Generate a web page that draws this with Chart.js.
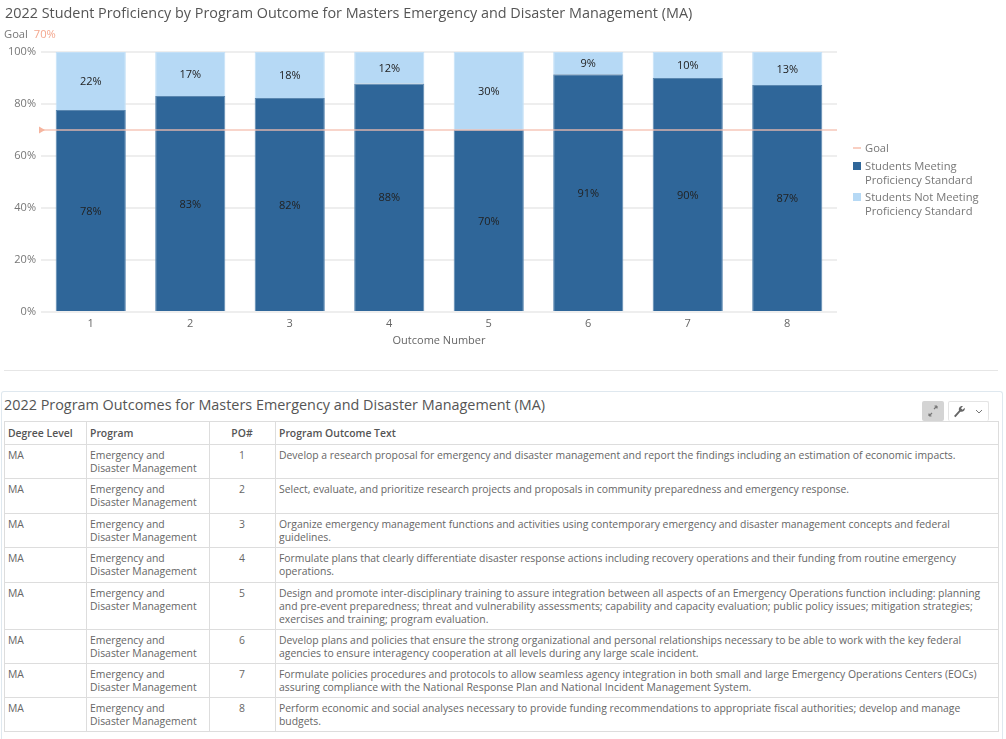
<!DOCTYPE html>
<html>
<head>
<meta charset="utf-8">
<title>2022 Student Proficiency</title>
<script src="https://cdn.jsdelivr.net/npm/chart.js@4"></script>
<style>
  html, body { margin: 0; padding: 0; background: #fff; overflow: hidden; }
  body { width: 1006px; height: 739px; position: relative; font-family: "Open Sans", sans-serif; color: #666; }
  #grafico { position: absolute; left: 0; top: 0; }
  #titulo { position: absolute; left: 5px; top: 3px; font-size: 14.4px; line-height: 20px; color: #555; white-space: nowrap; }
  #meta { position: absolute; left: 4px; top: 26px; font-size: 11.2px; line-height: 15px; color: #777; }
  #meta span { color: #f4a78e; margin-left: 3px; }
  #legenda { position: absolute; left: 853px; top: 141px; width: 130px; font-size: 11.2px; line-height: 14px; color: #777; }
  .item { position: relative; padding-left: 12px; margin-bottom: 3px; }
  .item:first-child { margin-bottom: 4px; }
  .item i { position: absolute; left: 0; top: 3px; width: 8px; height: 8px; }
  .item i.linha { top: 6px; height: 2px; background: #f9cfc2 !important; }
  #divisor { position: absolute; left: 4px; top: 370px; width: 994px; border-top: 1px solid #e6e6e6; }
  #painel { position: absolute; left: 1px; top: 391px; width: 1000px; height: 348px; border: 1px solid #dfe8ef; border-bottom: 0; border-radius: 3px 3px 0 0; }
  #titulo2 { position: absolute; left: 4px; top: 395px; font-size: 14.4px; line-height: 20px; color: #555; white-space: nowrap; }
  #btn-expandir { position: absolute; left: 922px; top: 401px; width: 22px; height: 20px; background: #d4d4d4; border-radius: 2px; }
  #btn-ferramenta { position: absolute; left: 948px; top: 401px; width: 41px; height: 20px; border: 1px solid #e4e4e4; border-bottom: 0; box-sizing: border-box; border-radius: 2px; }
  table { position: absolute; left: 4px; top: 421px; width: 994px; border-collapse: collapse; table-layout: fixed; font-size: 10.4px; line-height: 13px; }
  th, td { border: 1px solid #ddd; padding: 4px 4px 3px 3px; text-align: left; vertical-align: top; font-weight: normal; }
  th { font-weight: 600; color: #555; padding-top: 5px; }
  .centro { text-align: center; }
</style>
</head>
<body>
<canvas id="grafico" width="1006" height="360"></canvas>
<div id="titulo">2022 Student Proficiency by Program Outcome for Masters Emergency and Disaster Management (MA)</div>
<div id="meta"></div>
<div id="legenda"></div>
<div id="divisor"></div>
<div id="painel"></div>
<div id="titulo2">2022 Program Outcomes for Masters Emergency and Disaster Management (MA)</div>
<div id="btn-expandir">
  <svg width="22" height="20" viewBox="0 0 22 20" fill="none" stroke="#777" stroke-width="1.2"><path d="M12 8 L15 5 M15 5 L12.5 5 M15 5 L15 7.5"/><path d="M10 12 L7 15 M7 15 L7 12.5 M7 15 L9.5 15"/></svg>
</div>
<div id="btn-ferramenta">
  <svg width="39" height="18" viewBox="0 0 39 18"><path d="M5 14 L10 8.5 C9.3 6 11 3.5 14 4 L12 6.3 L13.5 7.8 L15.8 5.7 C16.3 8.7 13.7 10.4 11.3 9.7 L6.5 15.3 Z" fill="#666"/><path d="M27 8 L30 11 L33 8" fill="none" stroke="#777" stroke-width="1"/></svg>
</div>
<table id="tabela"></table>

<script>
const META = 70;
const resultados = ['1', '2', '3', '4', '5', '6', '7', '8'];
const atendem = [77.7, 83.1, 82.3, 87.9, 70, 91.4, 90, 87.3];
const naoAtendem = [22.3, 16.9, 17.7, 12.1, 30, 8.6, 10, 12.7];
const ticksY = [0, 20, 40, 60, 80, 100];

const colunas = ['Degree Level', 'Program', 'PO#', 'Program Outcome Text'];
const largurasColunas = [82, 123, 66, 723];
const alturasLinhas = [23, 34, 35, 34, 35, 47, 34, 34, 33];
const textos = [
  'Develop a research proposal for emergency and disaster management and report the findings including an estimation of economic impacts.',
  'Select, evaluate, and prioritize research projects and proposals in community preparedness and emergency response.',
  'Organize emergency management functions and activities using contemporary emergency and disaster management concepts and federal guidelines.',
  'Formulate plans that clearly differentiate disaster response actions including recovery operations and their funding from routine emergency operations.',
  'Design and promote inter-disciplinary training to assure integration between all aspects of an Emergency Operations function including: planning and pre-event preparedness; threat and vulnerability assessments; capability and capacity evaluation; public policy issues; mitigation strategies; exercises and training; program evaluation.',
  'Develop plans and policies that ensure the strong organizational and personal relationships necessary to be able to work with the key federal agencies to ensure interagency cooperation at all levels during any large scale incident.',
  'Formulate policies procedures and protocols to allow seamless agency integration in both small and large Emergency Operations Centers (EOCs) assuring compliance with the National Response Plan and National Incident Management System.',
  'Perform economic and social analyses necessary to provide funding recommendations to appropriate fiscal authorities; develop and manage budgets.'
];

const COR_ATENDEM = '#2f6699';
const COR_NAO = '#b6d9f5';

// rotulos dentro de cada segmento
const rotulosBarras = {
  id: 'rotulosBarras',
  afterDatasetsDraw(chart) {
    const ctx = chart.ctx;
    ctx.save();
    ctx.font = '11px "Open Sans"';
    ctx.fillStyle = '#222';
    ctx.textAlign = 'center';
    ctx.textBaseline = 'middle';
    [1, 2].forEach(i => {
      chart.getDatasetMeta(i).data.forEach((barra, j) => {
        const centro = barra.getCenterPoint();
        ctx.fillText(Math.round(chart.data.datasets[i].data[j]) + '%', centro.x, centro.y + 1);
      });
    });
    ctx.restore();
  }
};

const chart = new Chart(document.getElementById('grafico'), {
  type: 'bar',
  data: {
    labels: resultados,
    datasets: [
      {
        // meia categoria para cada lado, para a linha ir de ponta a ponta
        type: 'line',
        label: 'Goal',
        parsing: false,
        data: [{ x: -0.5, y: META }, { x: resultados.length - 0.5, y: META }],
        borderColor: 'rgba(245,190,175,0.65)',
        backgroundColor: '#f6b59f',
        borderWidth: 2,
        pointStyle: 'triangle',
        pointRotation: 90,
        pointRadius: [4, 0],
        pointBorderWidth: 0,
        clip: false,
        order: 0
      },
      {
        label: 'Students Meeting Proficiency Standard',
        data: atendem,
        backgroundColor: COR_ATENDEM,
        borderColor: '#5a87b0',
        borderWidth: 1,
        order: 1
      },
      {
        label: 'Students Not Meeting Proficiency Standard',
        data: naoAtendem,
        backgroundColor: COR_NAO,
        borderColor: '#c4e0f7',
        borderWidth: 1,
        order: 1
      }
    ]
  },
  options: {
    responsive: false,
    animation: false,
    barPercentage: 0.705,
    categoryPercentage: 1,
    layout: { padding: { top: 52, right: 169 } },
    plugins: { legend: { display: false }, title: { display: false }, tooltip: { enabled: false } },
    scales: {
      x: {
        stacked: true,
        afterFit: s => { s.height = 48; },
        grid: { display: false, drawTicks: false },
        border: { display: false },
        ticks: { color: '#666', padding: 5, font: { family: 'Open Sans', size: 11 } },
        title: { display: true, text: 'Outcome Number', color: '#666', padding: { top: 3, bottom: 13 }, font: { family: 'Open Sans', size: 11 } }
      },
      y: {
        stacked: true,
        min: 0,
        max: 100,
        afterFit: s => { s.width = 41; },
        afterBuildTicks: s => { s.ticks = ticksY.map(v => ({ value: v })); },
        grid: { color: '#eee', lineWidth: 2, drawTicks: false },
        border: { display: false },
        ticks: { color: '#777', padding: 5, font: { family: 'Open Sans', size: 11 }, callback: v => v + '%' }
      }
    }
  },
  plugins: [rotulosBarras]
});

document.getElementById('meta').innerHTML = 'Goal <span>' + META + '%</span>';

const legenda = document.getElementById('legenda');
chart.data.datasets.forEach((ds, i) => {
  const item = document.createElement('div');
  item.className = 'item';
  const marca = document.createElement('i');
  if (i === 0) marca.className = 'linha';
  marca.style.background = ds.backgroundColor;
  item.appendChild(marca);
  item.appendChild(document.createTextNode(ds.label));
  legenda.appendChild(item);
});

const tabela = document.getElementById('tabela');
const grupo = document.createElement('colgroup');
largurasColunas.forEach(l => {
  const col = document.createElement('col');
  col.style.width = l + 'px';
  grupo.appendChild(col);
});
tabela.appendChild(grupo);

const cabecalho = tabela.insertRow();
cabecalho.style.height = alturasLinhas[0] + 'px';
colunas.forEach((c, i) => {
  const th = document.createElement('th');
  th.textContent = c;
  if (i === 2) th.className = 'centro';
  cabecalho.appendChild(th);
});

textos.forEach((texto, i) => {
  const linha = tabela.insertRow();
  linha.style.height = alturasLinhas[i + 1] + 'px';
  ['MA', 'Emergency and<br>Disaster Management', resultados[i], texto].forEach((v, j) => {
    const td = linha.insertCell();
    td.innerHTML = v;
    if (j === 2) td.className = 'centro';
  });
});
</script>
</body>
</html>
